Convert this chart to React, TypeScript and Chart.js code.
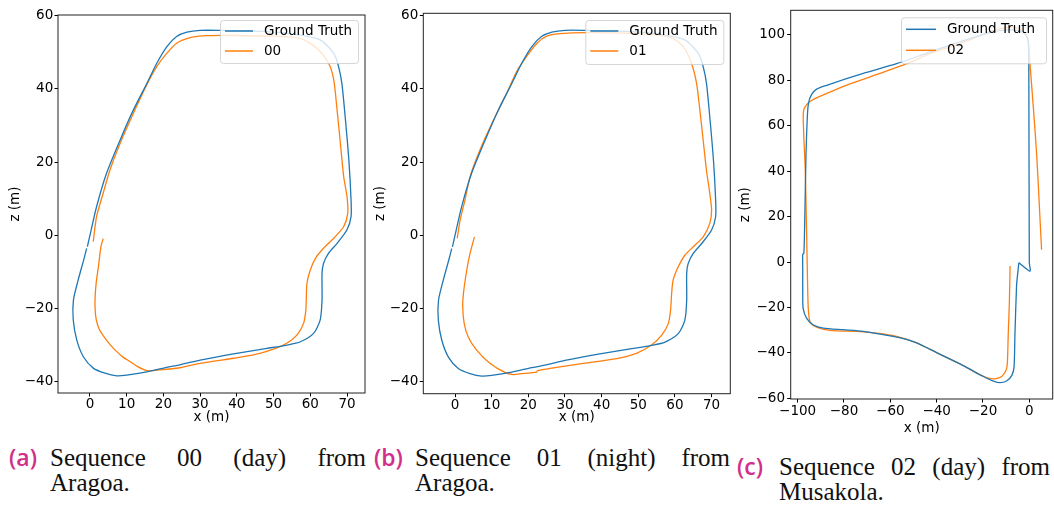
import React, { useEffect, useRef } from 'react';
import { Chart, registerables } from 'chart.js';

Chart.register(...registerables);

// ---------- Data (metres) ----------
const gtAragoaX = [-0.7, 0, 1.8, 4.5, 8.2, 11.8, 15.5, 18.2, 20.9, 23.6, 26.4, 30.0, 35.5, 44.5, 52.0, 57.3, 62.7, 66.4, 67.7, 68.6, 69.5, 70.5, 71.1, 71.1, 70.0, 67.3, 65.0, 63.6, 63.2, 63.2, 62.7, 60.9, 57.3, 53.6, 48.2, 39.1, 30.0, 24.5, 20.9, 15.5, 10.0, 7.3, 4.1, 0.9, -1.8, -3.6, -4.55, -4.5, -3.2, -1.7, -0.9];
const gtAragoaZ = [-3.1, 0, 7.8, 16.9, 26.0, 34.2, 41.5, 47.0, 51.5, 54.3, 55.5, 56.0, 56.0, 55.8, 55.4, 54.7, 53.4, 49.7, 46.1, 41.5, 32.4, 20.6, 9.7, 5.1, 1.5, -2.2, -4.9, -7.7, -10.4, -17.7, -23.1, -26.8, -29.1, -30.0, -30.9, -32.4, -34.1, -35.4, -36.1, -37.3, -38.2, -38.4, -37.7, -36.3, -33.2, -28.6, -23.1, -17.7, -12.2, -6.7, -3.6];

const seq00X = [0.9, 1.8, 3.6, 5.45, 8.2, 11.8, 15.45, 18.2, 20.9, 23.6, 27.3, 31.8, 39.1, 50.0, 57.3, 61.8, 65.0, 66.4, 67.3, 68.2, 69.1, 70.0, 70.2, 69.1, 66.4, 63.6, 61.4, 60.0, 59.1, 58.9, 58.8, 58.2, 56.4, 53.6, 50.0, 44.5, 39.1, 30.0, 24.5, 19.1, 15.5, 13.0, 10.9, 9.0, 7.3, 5.6, 4.0, 2.5, 1.7, 1.4, 1.4, 1.7, 2.3, 3.0, 3.6];
const seq00Z = [-1.7, 5.1, 11.5, 17.85, 25.1, 33.3, 41.1, 46.1, 49.7, 52.5, 54.0, 54.55, 54.6, 54.4, 53.8, 51.1, 47.0, 42.4, 34.2, 25.1, 16.0, 10.6, 6.0, 2.4, -0.8, -3.55, -6.3, -9.5, -13.1, -17.7, -20.4, -24.0, -27.2, -29.5, -31.1, -32.7, -33.6, -35.0, -36.2, -36.8, -37.0, -35.9, -34.5, -33.3, -31.8, -30.0, -28.0, -25.6, -23.0, -20.0, -17.0, -13.0, -8.6, -3.1, -0.9];

const seq01X = [0.6, 1.4, 2.7, 4.1, 6.8, 10.5, 14.1, 16.8, 19.5, 22.3, 25.0, 28.6, 35.9, 49.5, 58.6, 62.3, 64.5, 65.9, 66.8, 67.7, 68.6, 69.5, 70.0, 69.5, 67.7, 65.0, 62.7, 60.9, 59.5, 59.1, 58.8, 58.2, 56.4, 53.6, 49.5, 44.1, 35.0, 25.9, 22.5, 22.3, 17.7, 15.9, 13.6, 9.5, 5.9, 3.6, 2.5, 2.1, 2.3, 3.2, 4.1, 5.3];
const seq01Z = [-0.8, 4.2, 9.6, 16.0, 23.3, 31.5, 38.8, 44.7, 48.8, 52.4, 54.4, 55.1, 55.4, 55.1, 54.2, 51.5, 47.0, 41.5, 34.2, 26.0, 17.8, 11.5, 6.9, 3.3, -0.4, -3.1, -5.4, -8.55, -12.2, -15.8, -20.4, -24.0, -27.2, -29.9, -32.2, -33.6, -34.9, -36.3, -36.9, -37.3, -37.8, -38.0, -37.4, -34.9, -31.3, -27.7, -24.0, -19.5, -15.8, -9.5, -4.9, -0.4];

const gtMusakolaX = [-4.5, -5.0, -5.5, -6.2, -6.6, -7.6, -9.8, -12.7, -15.5, -19.9, -28.5, -40.0, -48.6, -54.4, -63.0, -71.7, -80.3, -88.9, -93.2, -96.1, -97.6, -97.8, -97.8, -97.8, -97.3, -96.8, -96.4, -95.8, -95.3, -94.0, -91.8, -87.5, -71.7, -57.3, -42.9, -28.5, -17.0, -9.8, -4.0, -1.2, -0.4, -0.2, 0, 0.3, -4.5];
const gtMusakolaZ = [-0.3, -5.0, -10.4, -32.0, -46.4, -50.0, -52.4, -53.1, -52.4, -50.4, -45.6, -39.9, -35.6, -33.7, -32.0, -30.5, -29.8, -29.1, -27.7, -24.8, -20.5, -14.7, -3.2, 3.3, 3.9, 25.5, 47.0, 64.3, 70.1, 73.7, 76.1, 77.8, 83.0, 87.3, 92.4, 97.4, 101.0, 102.2, 101.7, 99.6, 96.0, 83.0, -0.3, -4.0, -0.3];

const seq02X = [-8.3, -8.6, -9.1, -9.5, -10.1, -11.9, -14.8, -17.7, -22.0, -29.9, -40.0, -48.6, -57.3, -65.9, -74.5, -83.2, -88.2, -92.5, -94.7, -95.4, -95.7, -96.1, -96.7, -97.3, -97.6, -97.3, -96.1, -94.0, -90.4, -78.8, -64.5, -52.9, -42.9, -28.5, -17.0, -9.8, -5.5, -1.9, -0.4, 0.3, 1.7, 3.2, 4.3, 5.3];
const seq02Z = [-1.8, -17.6, -32.0, -44.9, -47.8, -50.4, -51.4, -51.1, -49.2, -44.9, -39.9, -35.6, -32.7, -31.3, -30.5, -30.3, -29.8, -28.4, -26.2, -20.5, -10.4, 11.2, 39.9, 54.3, 64.3, 67.2, 69.3, 71.1, 72.9, 77.9, 83.0, 87.3, 91.7, 96.7, 101.4, 103.2, 103.2, 101.0, 97.4, 87.3, 68.6, 47.1, 25.5, 5.4];

const xTicksAragoa = [0, 10, 20, 30, 40, 50, 60, 70];
const zTicksAragoa = [-40, -20, 0, 20, 40, 60];
const xTicksMusakola = [-100, -80, -60, -40, -20, 0];
const zTicksMusakola = [-60, -40, -20, 0, 20, 40, 60, 80, 100];

const seriesNames = ['00', '01', '02'];
const gtName = 'Ground Truth';
const axisTitleX = 'x (m)';
const axisTitleZ = 'z (m)';

// ---------- Styles ----------
const BLUE = '#1f77b4';
const ORANGE = '#ff7f0e';
const FONT = '"DejaVu Sans", sans-serif';
const FS = 13.5;

const fmt = (v: number) => (v < 0 ? '\u2212' + Math.abs(v) : String(v));

type Legend = { right: number; top: number; w: number; h: number; l0: number; l1: number; tx: number; rows: number[] };
type Spec = {
  left: number; w: number; h: number;
  area: { left: number; top: number; right: number; bottom: number };
  xr: [number, number]; zr: [number, number];
  xTicks: number[]; zTicks: number[];
  gtX: number[]; gtZ: number[]; sX: number[]; sZ: number[];
  name: string;
  xTickPad: number; yTickPad: number; xTitlePad: number; yTitlePad: number;
  legend: Legend;
};

const specs: Spec[] = [
  {
    left: 0, w: 370, h: 430,
    area: { left: 58, top: 15, right: 365, bottom: 393 },
    xr: [-8.7, 74.9], zr: [-43.1, 60.2],
    xTicks: xTicksAragoa, zTicks: zTicksAragoa,
    gtX: gtAragoaX, gtZ: gtAragoaZ, sX: seq00X, sZ: seq00Z, name: seriesNames[0],
    xTickPad: 0, yTickPad: 1.2, xTitlePad: 4, yTitlePad: 7,
    legend: { right: 7, top: 5, w: 138, h: 43, l0: 5, l1: 33, tx: 44, rows: [11, 31] },
  },
  {
    left: 370, w: 365, h: 430,
    area: { left: 53.3, top: 13.3, right: 360.3, bottom: 393.7 },
    xr: [-8.65, 75.1], zr: [-43.2, 60.65],
    xTicks: xTicksAragoa, zTicks: zTicksAragoa,
    gtX: gtAragoaX, gtZ: gtAragoaZ, sX: seq01X, sZ: seq01Z, name: seriesNames[1],
    xTickPad: 0, yTickPad: 1.5, xTitlePad: 4, yTitlePad: 2.5,
    legend: { right: 7, top: 6.7, w: 138, h: 44, l0: 5, l1: 33, tx: 44, rows: [11, 31] },
  },
  {
    left: 735, w: 319, h: 440,
    area: { left: 55.7, top: 2.3, right: 317.7, bottom: 399 },
    xr: [-103.0, 10.1], zr: [-60.3, 110.8],
    xTicks: xTicksMusakola, zTicks: zTicksMusakola,
    gtX: gtMusakolaX, gtZ: gtMusakolaZ, sX: seq02X, sZ: seq02Z, name: seriesNames[2],
    xTickPad: 1, yTickPad: 2.2, xTitlePad: 3.7, yTitlePad: 2.7,
    legend: { right: 6.7, top: 7, w: 145, h: 46, l0: 5, l1: 35, tx: 46, rows: [12, 33] },
  },
];

function Panel({ spec }: { spec: Spec }) {
  const ref = useRef<HTMLCanvasElement>(null);
  useEffect(() => {
    const s = spec;
    const pts = (xs: number[], zs: number[]) => xs.map((x, i) => ({ x, y: zs[i] }));
    const overlay = {
      id: 'mplOverlay',
      afterDraw(chart: any) {
        const ctx = chart.ctx as CanvasRenderingContext2D;
        const a = chart.chartArea;
        const L = s.legend;
        const bx = a.right - L.right - L.w;
        const by = a.top + L.top;
        ctx.save();
        ctx.beginPath();
        (ctx as any).roundRect(bx + 0.5, by + 0.5, L.w, L.h, 3);
        ctx.fillStyle = 'rgba(255,255,255,0.8)';
        ctx.fill();
        ctx.strokeStyle = 'rgba(204,204,204,0.8)';
        ctx.lineWidth = 1;
        ctx.stroke();
        const entries: [string, string][] = [[gtName, BLUE], [s.name, ORANGE]];
        entries.forEach(([t, c], i) => {
          const y = by + L.rows[i];
          ctx.strokeStyle = c;
          ctx.lineWidth = 1.5;
          ctx.beginPath();
          ctx.moveTo(bx + L.l0, y);
          ctx.lineTo(bx + L.l1, y);
          ctx.stroke();
          ctx.fillStyle = '#000';
          ctx.font = `${FS}px ${FONT}`;
          ctx.textBaseline = 'middle';
          ctx.textAlign = 'left';
          ctx.fillText(t, bx + L.tx, y);
        });
        ctx.strokeStyle = '#222';
        ctx.lineWidth = 1;
        ctx.strokeRect(a.left, a.top, a.right - a.left, a.bottom - a.top);
        ctx.restore();
      },
    };
    const tickFont = { family: FONT, size: FS };
    const chart = new Chart(ref.current as HTMLCanvasElement, {
      type: 'scatter',
      data: {
        datasets: [
          { label: gtName, data: pts(s.gtX, s.gtZ), showLine: true, borderColor: BLUE, backgroundColor: BLUE, borderWidth: 1.3, pointRadius: 0, pointHoverRadius: 0, tension: 0.25, fill: false },
          { label: s.name, data: pts(s.sX, s.sZ), showLine: true, borderColor: ORANGE, backgroundColor: ORANGE, borderWidth: 1.3, pointRadius: 0, pointHoverRadius: 0, tension: 0.25, fill: false },
        ],
      },
      options: {
        animation: false,
        responsive: false,
        devicePixelRatio: 1,
        events: [],
        layout: { padding: { left: 0, top: s.area.top, right: s.w - s.area.right, bottom: 0 } },
        plugins: { legend: { display: false }, tooltip: { enabled: false } },
        scales: {
          x: {
            type: 'linear', position: 'bottom', min: s.xr[0], max: s.xr[1],
            afterBuildTicks: (sc: any) => { sc.ticks = s.xTicks.map((v) => ({ value: v })); },
            afterFit: (sc: any) => { sc.height = s.h - s.area.bottom; },
            ticks: { callback: (v: any) => fmt(Number(v)), font: tickFont, color: '#000', padding: s.xTickPad, maxRotation: 0, autoSkip: false },
            grid: { drawOnChartArea: false, drawTicks: true, tickLength: 3.5, color: '#000', lineWidth: 1 },
            border: { display: false },
            title: { display: true, text: axisTitleX, font: tickFont, color: '#000', padding: { top: 0, bottom: s.xTitlePad } },
          },
          y: {
            type: 'linear', position: 'left', min: s.zr[0], max: s.zr[1],
            afterBuildTicks: (sc: any) => { sc.ticks = s.zTicks.map((v) => ({ value: v })); },
            afterFit: (sc: any) => { sc.width = s.area.left; },
            ticks: { callback: (v: any) => fmt(Number(v)), font: tickFont, color: '#000', padding: s.yTickPad, autoSkip: false },
            grid: { drawOnChartArea: false, drawTicks: true, tickLength: 3.5, color: '#000', lineWidth: 1 },
            border: { display: false },
            title: { display: true, text: axisTitleZ, font: tickFont, color: '#000', padding: { top: s.yTitlePad, bottom: 0 } },
          },
        },
      },
      plugins: [overlay],
    } as any);
    return () => chart.destroy();
  }, [spec]);
  return (
    <canvas
      ref={ref}
      width={spec.w}
      height={spec.h}
      style={{ position: 'absolute', left: spec.left, top: 0, width: spec.w, height: spec.h }}
    />
  );
}

const captions = [
  { tag: '(a)', line1: 'Sequence 00 (day) from', line2: 'Aragoa.', tagX: 9, textX: 50, textW: 316, cy: 457 },
  { tag: '(b)', line1: 'Sequence 01 (night) from', line2: 'Aragoa.', tagX: 374, textX: 415, textW: 315, cy: 457 },
  { tag: '(c)', line1: 'Sequence 02 (day) from', line2: 'Musakola.', tagX: 737, textX: 779, textW: 271, cy: 466 },
];

const SERIF = '"Liberation Serif", "Times New Roman", serif';

export default function App() {
  return (
    <div style={{ position: 'fixed', left: 0, top: 0, width: 1054, height: 509, background: '#fff', overflow: 'hidden' }}>
      {specs.map((s, i) => <Panel key={i} spec={s} />)}
      {captions.map((c, i) => (
        <React.Fragment key={'c' + i}>
          <div style={{ position: 'absolute', left: c.tagX, top: c.cy - 13, height: 26, lineHeight: '26px', fontFamily: '"Open Sans", sans-serif', fontWeight: 600, fontSize: 23, color: '#d12f8a', whiteSpace: 'nowrap' }}>{c.tag}</div>
          <div style={{ position: 'absolute', left: c.textX, top: c.cy - 12.5, width: c.textW, height: 25, lineHeight: '25px', fontFamily: SERIF, fontSize: 25, color: '#111', textAlign: 'justify', textAlignLast: 'justify' as any, whiteSpace: 'normal' }}>{c.line1}</div>
          <div style={{ position: 'absolute', left: c.textX, top: c.cy + 12.5, height: 25, lineHeight: '25px', fontFamily: SERIF, fontSize: 25, color: '#111', whiteSpace: 'nowrap' }}>{c.line2}</div>
        </React.Fragment>
      ))}
    </div>
  );
}
